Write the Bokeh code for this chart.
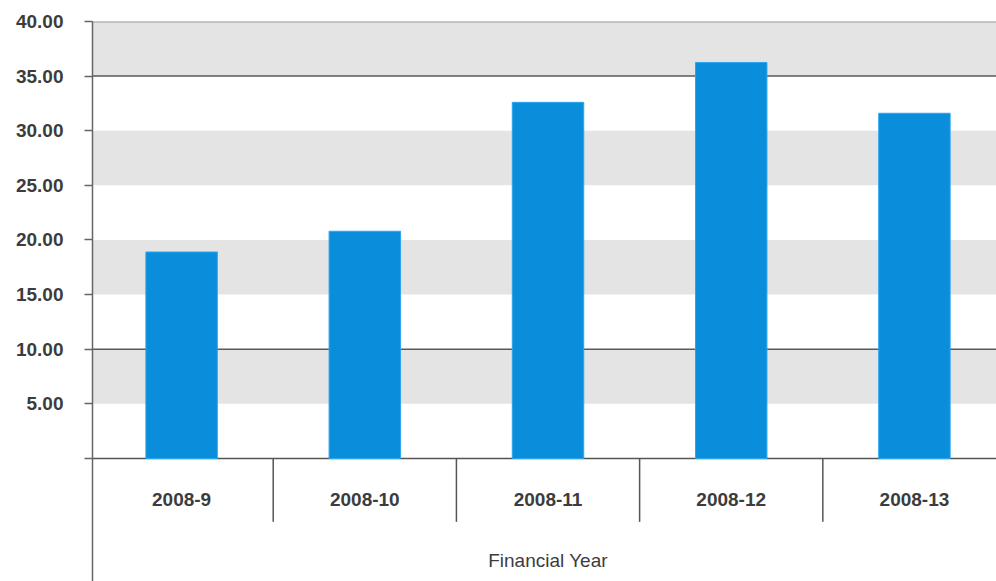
from bokeh.plotting import figure
from bokeh.models import FixedTicker, NumeralTickFormatter, Span, ColumnDataSource, BoxAnnotation
from bokeh.core.properties import value
from bokeh.embed import file_html
from bokeh.resources import INLINE

categories = ["2008-9", "2008-10", "2008-11", "2008-12", "2008-13"]
values = [18.9, 20.8, 32.6, 36.25, 31.6]
y_ticks = [0, 5, 10, 15, 20, 25, 30, 35, 40]
x_title = "Financial Year"

centers = [i + 0.5 for i in range(len(categories))]
bounds = list(range(1, len(categories)))

p = figure(width=996, height=581, output_backend="svg", toolbar_location=None,
           x_range=(0.0136, 4.948), y_range=(-11.26, 40),
           x_axis_location=None, y_axis_location="left",
           min_border_left=92, min_border_top=21, min_border_right=0, min_border_bottom=0)
p.outline_line_color = None
p.background_fill_color = "white"
p.border_fill_color = "white"
p.xgrid.visible = False
p.ygrid.visible = False

# y axis
ya = p.yaxis[0]
ya.ticker = FixedTicker(ticks=y_ticks, minor_ticks=[])
ya.formatter = NumeralTickFormatter(format="0.00")
ya.major_label_overrides = {0: ""}
ya.major_tick_in = 0
ya.major_tick_out = 8
ya.major_label_standoff = 21
ya.axis_line_color = "#666666"
ya.axis_line_width = 1.5
ya.major_tick_line_color = "#666666"
ya.major_tick_line_width = 1.5
ya.major_label_text_font = "Liberation Sans"
ya.major_label_text_font_size = "19px"
ya.major_label_text_font_style = "bold"
ya.major_label_text_color = "#3c3c3c"

# alternating bands (5-10, 15-20, 25-30, 35-40)
for i in range(1, len(y_ticks) - 1, 2):
    p.add_layout(BoxAnnotation(bottom=y_ticks[i], top=y_ticks[i + 1], fill_color="#e4e4e4",
                               fill_alpha=1.0, line_color=None, level="underlay"))

for yv, col, w in [(40, "#9a9a9a", 2), (35, "#5a5a5a", 1.5), (10, "#5a5a5a", 1.5), (0, "#555555", 1.5)]:
    p.add_layout(Span(location=yv, dimension="width", line_color=col, line_width=w, level="underlay"))

src = ColumnDataSource(dict(x=centers, top=values, cat=categories))
p.vbar(x="x", top="top", bottom=0, width=0.39, source=src,
       fill_color="#0a8edb", line_color="#2aa6ee", line_width=1)

# category separators
p.segment(x0=bounds, y0=[0] * len(bounds), x1=bounds, y1=[-5.8] * len(bounds),
          line_color="#555555", line_width=1.5)

# category labels
p.text(x="x", y=-3.75, text="cat", source=src, text_align="center", text_baseline="middle",
       text_font=value("Liberation Sans"), text_font_size="19px", text_font_style="bold",
       text_color="#3c3c3c")

p.text(x=[sum(centers) / len(centers)], y=[-9.34], text=[x_title], text_align="center",
       text_baseline="middle", text_font=value("Liberation Sans"), text_font_size="19px",
       text_color="#3c3c3c")

open("out.html", "w").write(file_html(p, INLINE))
